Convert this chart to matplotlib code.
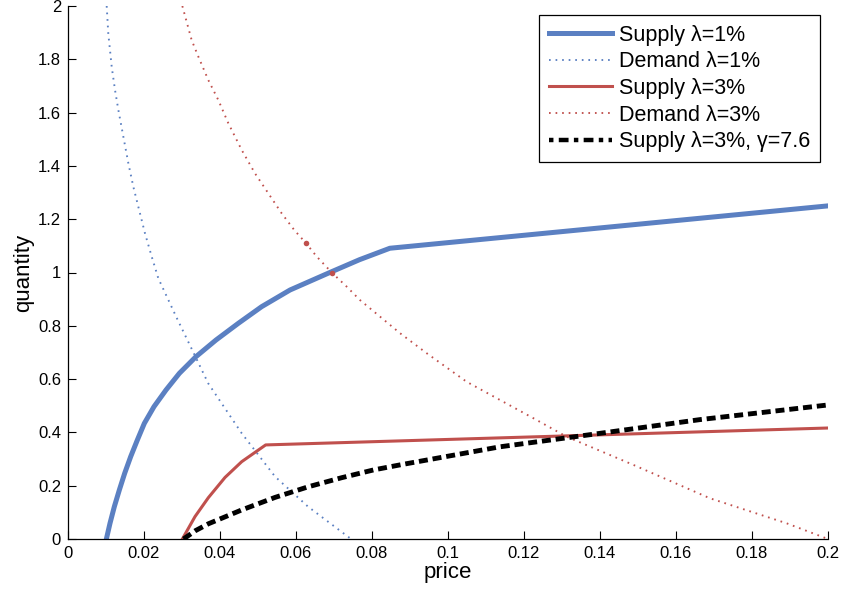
import numpy as np
import matplotlib
matplotlib.use("Agg")
import matplotlib.pyplot as plt
from matplotlib.lines import Line2D

plt.rcParams['font.family'] = ['Liberation Sans', 'DejaVu Sans']

# --- data (price, quantity) ---
sup1_p = [0.0101, 0.01105, 0.01219, 0.01351, 0.01491, 0.01649, 0.01825,
          0.02009, 0.02263, 0.02579, 0.0293, 0.03368, 0.03895, 0.04482,
          0.05096, 0.05842, 0.0689, 0.0767, 0.0847, 0.2]
sup1_q = [0.0, 0.0588, 0.1213, 0.1839, 0.2464, 0.3089, 0.3715,
          0.434, 0.4966, 0.5591, 0.6216, 0.6842, 0.7467, 0.8093,
          0.8718, 0.9343, 1.0, 1.048, 1.091, 1.25]

dem1_p = [0.01018, 0.0106, 0.0115, 0.01237, 0.01325, 0.01456, 0.01588,
          0.01719, 0.0185, 0.02026, 0.02202, 0.02377, 0.0286, 0.033,
          0.0369, 0.0457, 0.0545, 0.0632, 0.0745]
dem1_q = [2.0, 1.897, 1.772, 1.685, 1.61, 1.51, 1.41,
          1.322, 1.247, 1.147, 1.06, 0.978, 0.83, 0.70,
          0.584, 0.397, 0.234, 0.121, 0.0]

sup3_p = [0.0301, 0.03342, 0.03693, 0.04132, 0.0457, 0.05202, 0.2]
sup3_q = [0.0, 0.084, 0.155, 0.231, 0.29, 0.353, 0.4165]

dem3_p = [0.03009, 0.03254, 0.0343, 0.03693, 0.03956, 0.04219, 0.0457,
          0.04921, 0.05272, 0.05623, 0.05956, 0.06263, 0.06544, 0.0694,
          0.07333, 0.0768, 0.0874, 0.0944, 0.1049, 0.1225, 0.1312,
          0.1488, 0.1689, 0.1891, 0.2]
dem3_q = [2.0, 1.872, 1.81, 1.722, 1.647, 1.56, 1.46,
          1.372, 1.297, 1.222, 1.159, 1.11, 1.06, 1.0,
          0.947, 0.897, 0.772, 0.697, 0.59, 0.453, 0.384,
          0.278, 0.153, 0.059, 0.0]

supg_p = [0.0304, 0.0335, 0.03693, 0.0457, 0.05447, 0.06324, 0.07202, 0.08035,
          0.0877, 0.1137, 0.14, 0.1663, 0.2]
supg_q = [0.0, 0.031, 0.057, 0.109, 0.156, 0.196, 0.23, 0.259,
          0.279, 0.346, 0.3965, 0.448, 0.503]

# the two small dots sitting on the red demand curve
mark_p = [0.06263, 0.0694]
mark_q = [1.11, 1.0]

labels = ['Supply \u03bb=1%', 'Demand \u03bb=1%', 'Supply \u03bb=3%',
          'Demand \u03bb=3%', 'Supply \u03bb=3%, \u03b3=7.6']

xticks = np.arange(0, 0.2001, 0.02)
yticks = np.arange(0, 2.001, 0.2)

blue = '#5b80c2'
red = '#c0504d'
dots = (0, (0.9, 2.6))

fig = plt.figure(figsize=(8.44, 5.90), dpi=100)
ax = fig.add_axes([68/844, 51/590, 760/844, 533/590])

h1, = ax.plot(sup1_p, sup1_q, color=blue, lw=3.6)
h2, = ax.plot(dem1_p, dem1_q, color=blue, lw=1.35, linestyle=dots)
h3, = ax.plot(sup3_p, sup3_q, color=red, lw=2.2)
h4, = ax.plot(dem3_p, dem3_q, color=red, lw=1.35, linestyle=dots)
ax.plot(supg_p, supg_q, color='black', lw=3.5, linestyle=(0, (1.85, 1.0)))
ax.plot(mark_p, mark_q, 'o', color=red, ms=4, mec='none')

# legend sample for the black curve is drawn dash-dot
h5 = Line2D([], [], color='black', lw=3.2, linestyle=(0, (1.0, 1.2, 2.2, 1.2)))

ax.set_xlim(0, 0.2)
ax.set_ylim(0, 2)
ax.set_xticks(xticks)
ax.set_yticks(yticks)
ax.set_xticklabels(['%g' % round(v, 2) for v in xticks])
ax.set_yticklabels(['%g' % round(v, 1) for v in yticks])
ax.tick_params(direction='in', length=6, width=0.8, labelsize=12, pad=5)
for s in ['top', 'right']:
    ax.spines[s].set_visible(False)
for s in ['left', 'bottom']:
    ax.spines[s].set_linewidth(0.9)

ax.set_xlabel('price', fontsize=16, labelpad=1)
ax.set_ylabel('quantity', fontsize=16, labelpad=3)

leg = ax.legend([h1, h2, h3, h4, h5], labels, loc='upper right',
                bbox_to_anchor=(0.9895, 0.983), fontsize=15.5,
                frameon=True, fancybox=False, framealpha=1, edgecolor='black',
                handlelength=2.9, handletextpad=0.35, labelspacing=0.26,
                borderpad=0.45, borderaxespad=0)
leg.get_frame().set_linewidth(0.9)

fig.savefig('out.png', dpi=100)
